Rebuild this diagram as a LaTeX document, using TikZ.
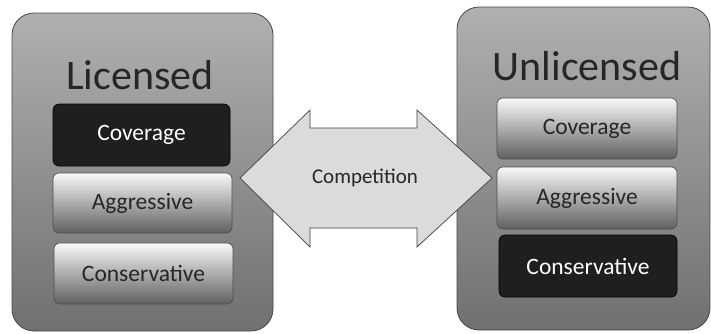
\documentclass[tikz,border=0pt]{standalone}
\usepackage{fontspec}
\setmainfont{Carlito}
\begin{document}
\begin{tikzpicture}[x=1pt,y=-1pt,
  panel/.style={draw=gray!55!black, line width=0.8pt, rounded corners=22pt,
    top color=gray!62, middle color=gray!56, bottom color=gray!88!black},
  lightbox/.style={draw=gray!60!black, line width=0.6pt, rounded corners=6pt,
    top color=gray!5, middle color=gray!12, bottom color=gray!75!black},
  darkbox/.style={draw=black, line width=0.6pt, rounded corners=6pt, fill=black!88},
  boxtext/.style={font=\fontsize{23.5}{27}\selectfont, text=black!85},
  darktext/.style={font=\fontsize{23.5}{27}\selectfont, text=white},
  title/.style={font=\fontsize{42}{48}\selectfont, text=black!85},
  arrowfill/.style={draw=gray!50!black, line width=0.7pt, fill=gray!28}]
\useasboundingbox (0,0) rectangle (711,333);

% left group
\path[panel] (12,13) rectangle (273,331);
\node[title] (lic) at (140,75) {Licensed};
\path[darkbox] (53,104) rectangle (230,166);
\node[darktext] (lcov) at (141.5,135) {Coverage};
\path[lightbox] (53,173) rectangle (232,233);
\node[boxtext] (lagg) at (142.5,203) {Aggressive};
\path[lightbox] (54,243) rectangle (233,304);
\node[boxtext] (lcon) at (143.5,273.5) {Conservative};

% right group
\path[panel] (457,7) rectangle (710,330);
\node[title] (unl) at (587,66) {Unlicensed};
\path[lightbox] (497,98) rectangle (677,159);
\node[boxtext] (rcov) at (587,128.5) {Coverage};
\path[lightbox] (497,167) rectangle (677,229);
\node[boxtext] (ragg) at (587,198) {Aggressive};
\path[darkbox] (499,235) rectangle (677,297);
\node[darktext] (rcon) at (588,266) {Conservative};

% double arrow between the groups
\draw[arrowfill] (240,178) -- (310,110) -- (310,128) -- (417,128) -- (417,110)
  -- (492,178) -- (417,247) -- (417,228) -- (310,228) -- (310,247) -- cycle;
\node[font=\fontsize{21}{24}\selectfont, text=black!85] (comp) at (365,178) {Competition};
\end{tikzpicture}
\end{document}
